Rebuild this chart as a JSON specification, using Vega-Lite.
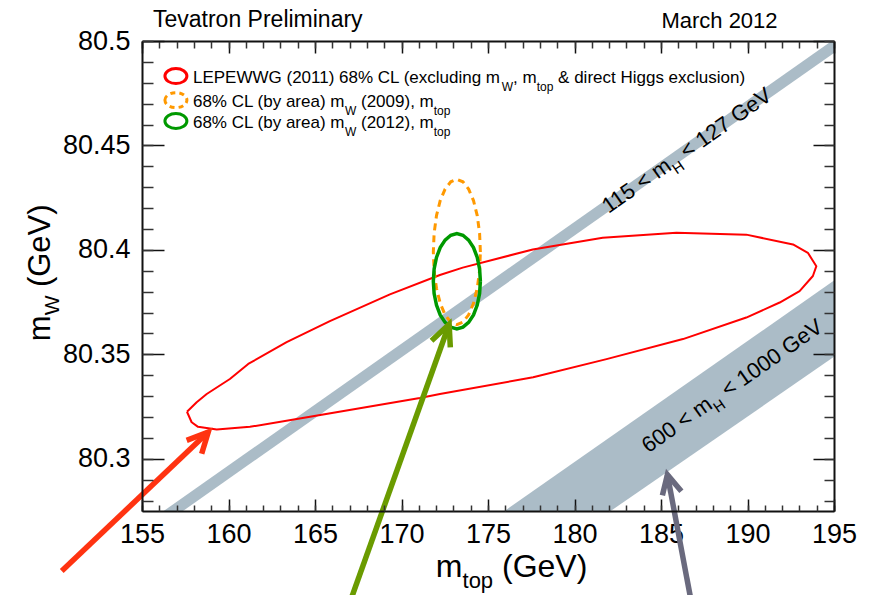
{
  "$schema": "https://vega.github.io/schema/vega-lite/v6.json",
  "width": 692,
  "height": 470,
  "autosize": "none",
  "padding": {"left": 142, "top": 41, "right": 43, "bottom": 84},
  "background": "white",
  "config": {"view": {"stroke": null}, "font": "Liberation Sans", "axis": {"grid": false}},
  "resolve": {"axis": {"x": "independent", "y": "independent"}, "scale": {"color": "independent"}},
  "datasets": {
    "band": [
      {"band": "light", "x": 155, "lo": 80.2612, "hi": 80.2677},
      {"band": "light", "x": 195, "lo": 80.4943, "hi": 80.5008},
      {"band": "heavy", "x": 170, "lo": 80.2059, "hi": 80.2405},
      {"band": "heavy", "x": 195, "lo": 80.3488, "hi": 80.3853}
    ],
    "contour": [
      {"i": 1, "x": 157.60, "y": 80.3225}, {"i": 2, "x": 158.16, "y": 80.3271}, {"i": 3, "x": 158.74, "y": 80.3310},
      {"i": 4, "x": 160.08, "y": 80.3382}, {"i": 5, "x": 161.14, "y": 80.3454}, {"i": 6, "x": 163.36, "y": 80.3558},
      {"i": 7, "x": 165.86, "y": 80.3659}, {"i": 8, "x": 169.33, "y": 80.3787}, {"i": 9, "x": 172.22, "y": 80.3880},
      {"i": 10, "x": 173.54, "y": 80.3915}, {"i": 11, "x": 177.59, "y": 80.4002}, {"i": 12, "x": 181.63, "y": 80.4058},
      {"i": 13, "x": 185.89, "y": 80.4082}, {"i": 14, "x": 189.93, "y": 80.4073}, {"i": 15, "x": 192.63, "y": 80.4026},
      {"i": 16, "x": 193.49, "y": 80.3986}, {"i": 17, "x": 193.98, "y": 80.3922}, {"i": 18, "x": 193.78, "y": 80.3875},
      {"i": 19, "x": 193.01, "y": 80.3803}, {"i": 20, "x": 191.86, "y": 80.3748}, {"i": 21, "x": 189.93, "y": 80.3676},
      {"i": 22, "x": 186.27, "y": 80.3573}, {"i": 23, "x": 181.85, "y": 80.3477}, {"i": 24, "x": 177.61, "y": 80.3390},
      {"i": 25, "x": 172.22, "y": 80.3310}, {"i": 26, "x": 171.06, "y": 80.3291}, {"i": 27, "x": 164.71, "y": 80.3201},
      {"i": 28, "x": 161.24, "y": 80.3153}, {"i": 29, "x": 159.32, "y": 80.3140}, {"i": 30, "x": 158.24, "y": 80.3153},
      {"i": 31, "x": 157.87, "y": 80.3175}, {"i": 32, "x": 157.60, "y": 80.3225}
    ],
    "ell": [
      {"e": "o", "i": 0, "x": 174.560, "y": 80.3990}, {"e": "o", "i": 1, "x": 174.514, "y": 80.4080},
      {"e": "o", "i": 2, "x": 174.378, "y": 80.4164}, {"e": "o", "i": 3, "x": 174.162, "y": 80.4236},
      {"e": "o", "i": 4, "x": 173.880, "y": 80.4291}, {"e": "o", "i": 5, "x": 173.552, "y": 80.4326},
      {"e": "o", "i": 6, "x": 173.200, "y": 80.4338}, {"e": "o", "i": 7, "x": 172.848, "y": 80.4326},
      {"e": "o", "i": 8, "x": 172.520, "y": 80.4291}, {"e": "o", "i": 9, "x": 172.238, "y": 80.4236},
      {"e": "o", "i": 10, "x": 172.022, "y": 80.4164}, {"e": "o", "i": 11, "x": 171.886, "y": 80.4080},
      {"e": "o", "i": 12, "x": 171.840, "y": 80.3990}, {"e": "o", "i": 13, "x": 171.886, "y": 80.3900},
      {"e": "o", "i": 14, "x": 172.022, "y": 80.3816}, {"e": "o", "i": 15, "x": 172.238, "y": 80.3744},
      {"e": "o", "i": 16, "x": 172.520, "y": 80.3689}, {"e": "o", "i": 17, "x": 172.848, "y": 80.3654},
      {"e": "o", "i": 18, "x": 173.200, "y": 80.3642}, {"e": "o", "i": 19, "x": 173.552, "y": 80.3654},
      {"e": "o", "i": 20, "x": 173.880, "y": 80.3689}, {"e": "o", "i": 21, "x": 174.162, "y": 80.3744},
      {"e": "o", "i": 22, "x": 174.378, "y": 80.3816}, {"e": "o", "i": 23, "x": 174.514, "y": 80.3900},
      {"e": "o", "i": 24, "x": 174.560, "y": 80.3990},
      {"e": "g", "i": 0, "x": 174.560, "y": 80.3850}, {"e": "g", "i": 1, "x": 174.514, "y": 80.3909},
      {"e": "g", "i": 2, "x": 174.378, "y": 80.3964}, {"e": "g", "i": 3, "x": 174.162, "y": 80.4011},
      {"e": "g", "i": 4, "x": 173.880, "y": 80.4047}, {"e": "g", "i": 5, "x": 173.552, "y": 80.4070},
      {"e": "g", "i": 6, "x": 173.200, "y": 80.4078}, {"e": "g", "i": 7, "x": 172.848, "y": 80.4070},
      {"e": "g", "i": 8, "x": 172.520, "y": 80.4047}, {"e": "g", "i": 9, "x": 172.238, "y": 80.4011},
      {"e": "g", "i": 10, "x": 172.022, "y": 80.3964}, {"e": "g", "i": 11, "x": 171.886, "y": 80.3909},
      {"e": "g", "i": 12, "x": 171.840, "y": 80.3850}, {"e": "g", "i": 13, "x": 171.886, "y": 80.3791},
      {"e": "g", "i": 14, "x": 172.022, "y": 80.3736}, {"e": "g", "i": 15, "x": 172.238, "y": 80.3689},
      {"e": "g", "i": 16, "x": 172.520, "y": 80.3653}, {"e": "g", "i": 17, "x": 172.848, "y": 80.3630},
      {"e": "g", "i": 18, "x": 173.200, "y": 80.3622}, {"e": "g", "i": 19, "x": 173.552, "y": 80.3630},
      {"e": "g", "i": 20, "x": 173.880, "y": 80.3653}, {"e": "g", "i": 21, "x": 174.162, "y": 80.3689},
      {"e": "g", "i": 22, "x": 174.378, "y": 80.3736}, {"e": "g", "i": 23, "x": 174.514, "y": 80.3791},
      {"e": "g", "i": 24, "x": 174.560, "y": 80.3850}
    ],
    "legsym": [
      {"k": "red", "x": 156.96, "y": 80.4832},
      {"k": "orange", "x": 156.96, "y": 80.4717},
      {"k": "green", "x": 156.96, "y": 80.4617}
    ],
    "arrows": [
      {"a": "ra", "s": "rs", "i": 0, "x": 150.361, "y": 80.2463}, {"a": "ra", "s": "rs", "i": 1, "x": 158.830, "y": 80.3128},
      {"a": "ra", "s": "rh", "i": 0, "x": 157.582, "y": 80.3088}, {"a": "ra", "s": "rh", "i": 1, "x": 158.830, "y": 80.3128}, {"a": "ra", "s": "rh", "i": 2, "x": 158.449, "y": 80.3024},
      {"a": "ga", "s": "gs", "i": 0, "x": 167.104, "y": 80.2333}, {"a": "ga", "s": "gs", "i": 1, "x": 172.753, "y": 80.3644},
      {"a": "ga", "s": "gh", "i": 0, "x": 171.736, "y": 80.3565}, {"a": "ga", "s": "gh", "i": 1, "x": 172.753, "y": 80.3644}, {"a": "ga", "s": "gh", "i": 2, "x": 172.822, "y": 80.3533},
      {"a": "ya", "s": "ys", "i": 0, "x": 186.710, "y": 80.2333}, {"a": "ya", "s": "ys", "i": 1, "x": 185.370, "y": 80.2924},
      {"a": "ya", "s": "yh", "i": 0, "x": 185.081, "y": 80.2825}, {"a": "ya", "s": "yh", "i": 1, "x": 185.370, "y": 80.2924}, {"a": "ya", "s": "yh", "i": 2, "x": 186.178, "y": 80.2845}
    ],
    "txt": [
      {"r": "leg", "x": 157.946, "y": 80.4797, "t": "LEPEWWG (2011) 68% CL (excluding m"},
      {"r": "leg", "x": 176.450, "y": 80.4797, "t": ", m"},
      {"r": "leg", "x": 179.051, "y": 80.4797, "t": "& direct Higgs exclusion)"},
      {"r": "leg", "x": 157.946, "y": 80.4684, "t": "68% CL (by area) m"},
      {"r": "leg", "x": 167.659, "y": 80.4684, "t": "(2009), m"},
      {"r": "leg", "x": 157.946, "y": 80.4584, "t": "68% CL (by area) m"},
      {"r": "leg", "x": 167.659, "y": 80.4584, "t": "(2012), m"},
      {"r": "legsub", "x": 175.797, "y": 80.4797, "t": "W"},
      {"r": "legsub", "x": 177.813, "y": 80.4797, "t": "top"},
      {"r": "legsub", "x": 166.733, "y": 80.4684, "t": "W"},
      {"r": "legsub", "x": 171.863, "y": 80.4684, "t": "top"},
      {"r": "legsub", "x": 166.733, "y": 80.4584, "t": "W"},
      {"r": "legsub", "x": 171.863, "y": 80.4584, "t": "top"},
      {"r": "head", "x": 155.635, "y": 80.5068, "t": "Tevatron Preliminary"},
      {"r": "head2", "x": 185.023, "y": 80.5064, "t": "March 2012"},
      {"r": "bpre", "x": 185.676, "y": 80.4387, "t": "115 < m"},
      {"r": "bsub", "x": 185.676, "y": 80.4387, "t": "H"},
      {"r": "bpost", "x": 185.676, "y": 80.4387, "t": "< 127 GeV"},
      {"r": "bpre", "x": 188.05, "y": 80.3245, "t": "600 < m"},
      {"r": "bsub", "x": 188.05, "y": 80.3245, "t": "H"},
      {"r": "bpost", "x": 188.05, "y": 80.3245, "t": "< 1000 GeV"},
      {"r": "xt", "x": 171.985, "y": 80.2436, "t": "m"},
      {"r": "xtsub", "x": 173.527, "y": 80.2436, "t": "top"},
      {"r": "xt", "x": 175.809, "y": 80.2436, "t": "(GeV)"},
      {"r": "yt", "x": 149.685, "y": 80.3563, "t": "m"},
      {"r": "ytsub", "x": 149.685, "y": 80.3687, "t": "W"},
      {"r": "yt", "x": 149.685, "y": 80.3822, "t": "(GeV)"}
    ]
  },
  "layer": [
    {
      "data": {"name": "band"},
      "mark": {"type": "area", "color": "#abbcc7", "clip": true, "opacity": 1},
      "encoding": {
        "x": {"field": "x", "type": "quantitative", "scale": {"domain": [155, 195], "nice": false, "zero": false},
          "axis": {"orient": "bottom", "values": [155, 160, 165, 170, 175, 180, 185, 190, 195], "ticks": false, "domain": false, "labelFontSize": 27, "labelPadding": 10, "labelColor": "#000", "labelFont": "Liberation Sans", "labelFlush": false, "labelOverlap": false, "title": null}},
        "y": {"field": "lo", "type": "quantitative", "scale": {"domain": [80.275, 80.5], "nice": false, "zero": false},
          "axis": {"orient": "left", "values": [80.3, 80.35, 80.4, 80.45, 80.5], "format": "~g", "ticks": false, "domain": false, "labelFontSize": 27, "labelPadding": 12, "labelColor": "#000", "labelFont": "Liberation Sans", "labelFlush": false, "labelOverlap": false, "title": null}},
        "y2": {"field": "hi"},
        "detail": {"field": "band"}
      }
    },
    {
      "data": {"name": "contour"},
      "mark": {"type": "line", "color": "#ff0000", "strokeWidth": 2, "strokeJoin": "round"},
      "encoding": {
        "x": {"field": "x", "type": "quantitative", "scale": {"domain": [155, 195], "nice": false, "zero": false},
          "axis": {"orient": "bottom", "values": [155, 160, 165, 170, 175, 180, 185, 190, 195], "labels": false, "domain": true, "domainColor": "#111", "domainWidth": 2, "ticks": true, "tickSize": -12, "tickWidth": 1.5, "tickColor": "#111", "title": null, "zindex": 1}},
        "y": {"field": "y", "type": "quantitative", "scale": {"domain": [80.275, 80.5], "nice": false, "zero": false},
          "axis": {"orient": "left", "values": [80.3, 80.35, 80.4, 80.45, 80.5], "labels": false, "domain": true, "domainColor": "#111", "domainWidth": 2, "ticks": true, "tickSize": -22, "tickWidth": 1.5, "tickColor": "#111", "title": null, "zindex": 1}},
        "order": {"field": "i", "type": "quantitative"}
      }
    },
    {
      "data": {"name": "ell"},
      "transform": [{"filter": "datum.e === 'o'"}],
      "mark": {"type": "line", "color": "#ff9900", "strokeWidth": 3, "strokeDash": [7, 5]},
      "encoding": {
        "x": {"field": "x", "type": "quantitative", "scale": {"domain": [155, 195], "nice": false, "zero": false},
          "axis": {"orient": "bottom", "values": [155,156,157,158,159,160,161,162,163,164,165,166,167,168,169,170,171,172,173,174,175,176,177,178,179,180,181,182,183,184,185,186,187,188,189,190,191,192,193,194,195], "labels": false, "domain": false, "ticks": true, "tickSize": -6, "tickWidth": 1.5, "tickColor": "#333", "title": null, "zindex": 1}},
        "y": {"field": "y", "type": "quantitative", "scale": {"domain": [80.275, 80.5], "nice": false, "zero": false},
          "axis": {"orient": "left", "values": [80.28,80.29,80.3,80.31,80.32,80.33,80.34,80.35,80.36,80.37,80.38,80.39,80.4,80.41,80.42,80.43,80.44,80.45,80.46,80.47,80.48,80.49,80.5], "labels": false, "domain": false, "ticks": true, "tickSize": -11, "tickWidth": 1.5, "tickColor": "#333", "title": null, "zindex": 1}},
        "order": {"field": "i", "type": "quantitative"}
      }
    },
    {
      "data": {"name": "ell"},
      "transform": [{"filter": "datum.e === 'g'"}],
      "mark": {"type": "line", "color": "#009900", "strokeWidth": 3.5},
      "encoding": {
        "x": {"field": "x", "type": "quantitative", "scale": {"domain": [155, 195], "nice": false, "zero": false},
          "axis": {"orient": "top", "values": [155, 160, 165, 170, 175, 180, 185, 190, 195], "labels": false, "domain": true, "domainColor": "#111", "domainWidth": 2, "ticks": true, "tickSize": -12, "tickWidth": 1.5, "tickColor": "#111", "title": null, "zindex": 1}},
        "y": {"field": "y", "type": "quantitative", "scale": {"domain": [80.275, 80.5], "nice": false, "zero": false},
          "axis": {"orient": "right", "values": [80.3, 80.35, 80.4, 80.45, 80.5], "labels": false, "domain": true, "domainColor": "#111", "domainWidth": 2, "ticks": true, "tickSize": -21, "tickWidth": 1.5, "tickColor": "#111", "title": null, "zindex": 1}},
        "order": {"field": "i", "type": "quantitative"}
      }
    },
    {
      "data": {"name": "legsym"},
      "transform": [{"filter": "datum.k !== 'orange'"}],
      "mark": {"type": "point", "shape": "M-1,0A1,0.68,0,1,1,1,0A1,0.68,0,1,1,-1,0Z", "size": 484, "filled": false, "strokeWidth": 3, "opacity": 1},
      "encoding": {
        "x": {"field": "x", "type": "quantitative", "scale": {"domain": [155, 195], "nice": false, "zero": false},
          "axis": {"orient": "top", "values": [155,156,157,158,159,160,161,162,163,164,165,166,167,168,169,170,171,172,173,174,175,176,177,178,179,180,181,182,183,184,185,186,187,188,189,190,191,192,193,194,195], "labels": false, "domain": false, "ticks": true, "tickSize": -7, "tickWidth": 1.5, "tickColor": "#333", "title": null, "zindex": 1}},
        "y": {"field": "y", "type": "quantitative", "scale": {"domain": [80.275, 80.5], "nice": false, "zero": false},
          "axis": {"orient": "right", "values": [80.28,80.29,80.3,80.31,80.32,80.33,80.34,80.35,80.36,80.37,80.38,80.39,80.4,80.41,80.42,80.43,80.44,80.45,80.46,80.47,80.48,80.49,80.5], "labels": false, "domain": false, "ticks": true, "tickSize": -10, "tickWidth": 1.5, "tickColor": "#333", "title": null, "zindex": 1}},
        "color": {"field": "k", "type": "nominal", "scale": {"domain": ["red", "green"], "range": ["#ff0000", "#009900"]}, "legend": null}
      }
    },
    {
      "data": {"name": "legsym"},
      "transform": [{"filter": "datum.k === 'orange'"}],
      "mark": {"type": "point", "shape": "M-1,0A1,0.68,0,1,1,1,0A1,0.68,0,1,1,-1,0Z", "size": 484, "filled": false, "strokeWidth": 3, "strokeDash": [5, 4], "color": "#ff9900", "opacity": 1},
      "encoding": {
        "x": {"field": "x", "type": "quantitative", "scale": {"domain": [155, 195], "nice": false, "zero": false}, "axis": null},
        "y": {"field": "y", "type": "quantitative", "scale": {"domain": [80.275, 80.5], "nice": false, "zero": false}, "axis": null}
      }
    },
    {
      "data": {"name": "arrows"},
      "mark": {"type": "line", "strokeWidth": 5.5, "strokeCap": "butt", "strokeJoin": "miter", "clip": false},
      "encoding": {
        "x": {"field": "x", "type": "quantitative", "scale": {"domain": [155, 195], "nice": false, "zero": false}, "axis": null},
        "y": {"field": "y", "type": "quantitative", "scale": {"domain": [80.275, 80.5], "nice": false, "zero": false}, "axis": null},
        "detail": {"field": "s"},
        "order": {"field": "i", "type": "quantitative"},
        "color": {"field": "a", "type": "nominal", "scale": {"domain": ["ra", "ga", "ya"], "range": ["#ff3311", "#6a9b00", "#6a6a7e"]}, "legend": null}
      }
    },
    {
      "data": {"name": "txt"},
      "transform": [{"filter": "datum.r === 'leg'"}],
      "mark": {"type": "text", "fontSize": 17, "align": "left", "baseline": "alphabetic", "color": "#000", "font": "Liberation Sans"},
      "encoding": {
        "x": {"field": "x", "type": "quantitative", "scale": {"domain": [155, 195], "nice": false, "zero": false}, "axis": null},
        "y": {"field": "y", "type": "quantitative", "scale": {"domain": [80.275, 80.5], "nice": false, "zero": false}, "axis": null},
        "text": {"field": "t"}
      }
    },
    {
      "data": {"name": "txt"},
      "transform": [{"filter": "datum.r === 'legsub'"}],
      "mark": {"type": "text", "fontSize": 12, "dy": 8, "align": "left", "baseline": "alphabetic", "color": "#000", "font": "Liberation Sans"},
      "encoding": {
        "x": {"field": "x", "type": "quantitative", "scale": {"domain": [155, 195], "nice": false, "zero": false}, "axis": null},
        "y": {"field": "y", "type": "quantitative", "scale": {"domain": [80.275, 80.5], "nice": false, "zero": false}, "axis": null},
        "text": {"field": "t"}
      }
    },
    {
      "data": {"name": "txt"},
      "transform": [{"filter": "datum.r === 'head'"}],
      "mark": {"type": "text", "fontSize": 23, "align": "left", "baseline": "alphabetic", "color": "#000", "font": "Liberation Sans"},
      "encoding": {
        "x": {"field": "x", "type": "quantitative", "scale": {"domain": [155, 195], "nice": false, "zero": false}, "axis": null},
        "y": {"field": "y", "type": "quantitative", "scale": {"domain": [80.275, 80.5], "nice": false, "zero": false}, "axis": null},
        "text": {"field": "t"}
      }
    },
    {
      "data": {"name": "txt"},
      "transform": [{"filter": "datum.r === 'head2'"}],
      "mark": {"type": "text", "fontSize": 22, "align": "left", "baseline": "alphabetic", "color": "#000", "font": "Liberation Sans"},
      "encoding": {
        "x": {"field": "x", "type": "quantitative", "scale": {"domain": [155, 195], "nice": false, "zero": false}, "axis": null},
        "y": {"field": "y", "type": "quantitative", "scale": {"domain": [80.275, 80.5], "nice": false, "zero": false}, "axis": null},
        "text": {"field": "t"}
      }
    },
    {
      "data": {"name": "txt"},
      "transform": [{"filter": "datum.r === 'bpre'"}],
      "mark": {"type": "text", "fontSize": 22, "angle": 325, "align": "right", "baseline": "alphabetic", "color": "#000", "font": "Liberation Sans"},
      "encoding": {
        "x": {"field": "x", "type": "quantitative", "scale": {"domain": [155, 195], "nice": false, "zero": false}, "axis": null},
        "y": {"field": "y", "type": "quantitative", "scale": {"domain": [80.275, 80.5], "nice": false, "zero": false}, "axis": null},
        "text": {"field": "t"}
      }
    },
    {
      "data": {"name": "txt"},
      "transform": [{"filter": "datum.r === 'bsub'"}],
      "mark": {"type": "text", "fontSize": 15, "angle": 325, "dy": 7, "align": "left", "baseline": "alphabetic", "color": "#000", "font": "Liberation Sans"},
      "encoding": {
        "x": {"field": "x", "type": "quantitative", "scale": {"domain": [155, 195], "nice": false, "zero": false}, "axis": null},
        "y": {"field": "y", "type": "quantitative", "scale": {"domain": [80.275, 80.5], "nice": false, "zero": false}, "axis": null},
        "text": {"field": "t"}
      }
    },
    {
      "data": {"name": "txt"},
      "transform": [{"filter": "datum.r === 'bpost'"}],
      "mark": {"type": "text", "fontSize": 22, "angle": 325, "dx": 17, "align": "left", "baseline": "alphabetic", "color": "#000", "font": "Liberation Sans"},
      "encoding": {
        "x": {"field": "x", "type": "quantitative", "scale": {"domain": [155, 195], "nice": false, "zero": false}, "axis": null},
        "y": {"field": "y", "type": "quantitative", "scale": {"domain": [80.275, 80.5], "nice": false, "zero": false}, "axis": null},
        "text": {"field": "t"}
      }
    },
    {
      "data": {"name": "txt"},
      "transform": [{"filter": "datum.r === 'xt'"}],
      "mark": {"type": "text", "fontSize": 32, "align": "left", "baseline": "alphabetic", "color": "#000", "font": "Liberation Sans"},
      "encoding": {
        "x": {"field": "x", "type": "quantitative", "scale": {"domain": [155, 195], "nice": false, "zero": false}, "axis": null},
        "y": {"field": "y", "type": "quantitative", "scale": {"domain": [80.275, 80.5], "nice": false, "zero": false}, "axis": null},
        "text": {"field": "t"}
      }
    },
    {
      "data": {"name": "txt"},
      "transform": [{"filter": "datum.r === 'xtsub'"}],
      "mark": {"type": "text", "fontSize": 22, "dy": 11, "align": "left", "baseline": "alphabetic", "color": "#000", "font": "Liberation Sans"},
      "encoding": {
        "x": {"field": "x", "type": "quantitative", "scale": {"domain": [155, 195], "nice": false, "zero": false}, "axis": null},
        "y": {"field": "y", "type": "quantitative", "scale": {"domain": [80.275, 80.5], "nice": false, "zero": false}, "axis": null},
        "text": {"field": "t"}
      }
    },
    {
      "data": {"name": "txt"},
      "transform": [{"filter": "datum.r === 'yt'"}],
      "mark": {"type": "text", "fontSize": 31, "angle": 270, "align": "left", "baseline": "alphabetic", "color": "#000", "font": "Liberation Sans"},
      "encoding": {
        "x": {"field": "x", "type": "quantitative", "scale": {"domain": [155, 195], "nice": false, "zero": false}, "axis": null},
        "y": {"field": "y", "type": "quantitative", "scale": {"domain": [80.275, 80.5], "nice": false, "zero": false}, "axis": null},
        "text": {"field": "t"}
      }
    },
    {
      "data": {"name": "txt"},
      "transform": [{"filter": "datum.r === 'ytsub'"}],
      "mark": {"type": "text", "fontSize": 21, "angle": 270, "dy": 9, "align": "left", "baseline": "alphabetic", "color": "#000", "font": "Liberation Sans"},
      "encoding": {
        "x": {"field": "x", "type": "quantitative", "scale": {"domain": [155, 195], "nice": false, "zero": false}, "axis": null},
        "y": {"field": "y", "type": "quantitative", "scale": {"domain": [80.275, 80.5], "nice": false, "zero": false}, "axis": null},
        "text": {"field": "t"}
      }
    }
  ]
}
